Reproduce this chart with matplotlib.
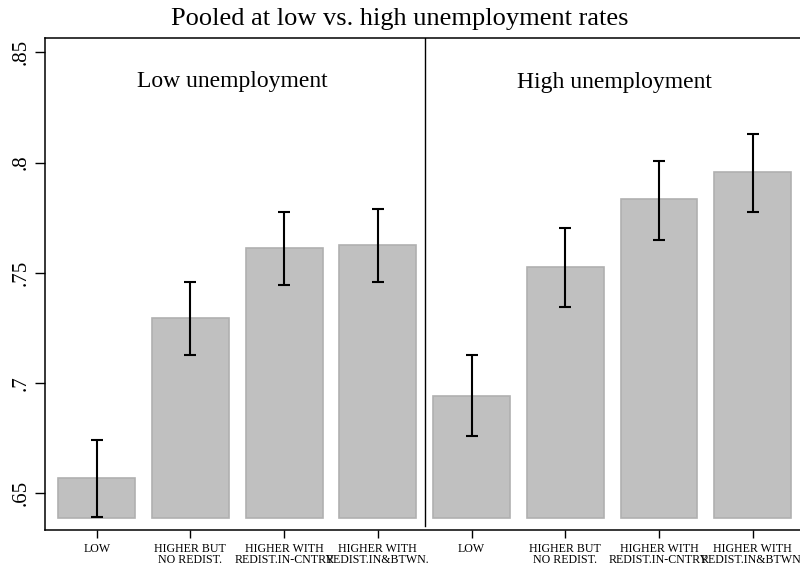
import matplotlib
matplotlib.use("Agg")
import matplotlib.pyplot as plt
import numpy as np

plt.rcParams['font.family'] = ['Liberation Serif', 'DejaVu Serif']

title = "Pooled at low vs. high unemployment rates"
panels = ["Low unemployment", "High unemployment"]
categories = ["LOW", "HIGHER BUT\nNO REDIST.", "HIGHER WITH\nREDIST.IN-CNTRY", "HIGHER WITH\nREDIST.IN&BTWN."]

low_means = [0.6568, 0.7295, 0.7612, 0.7625]
low_lo = [0.6390, 0.7125, 0.7445, 0.7458]
low_hi = [0.6740, 0.7459, 0.7776, 0.7790]

high_means = [0.6943, 0.7527, 0.7834, 0.7957]
high_lo = [0.6760, 0.7346, 0.7650, 0.7776]
high_hi = [0.7128, 0.7704, 0.8009, 0.8130]

yticks = [0.65, 0.7, 0.75, 0.8, 0.85]
ytick_labels = [".65", ".7", ".75", ".8", ".85"]

BASE = 0.6387

fig = plt.figure(figsize=(8, 5.67), dpi=100)
ax = fig.add_axes([45/800, 1-530/567, 759.4/800, (530-38.3)/567])

means = low_means + high_means
lo = low_lo + high_lo
hi = low_hi + high_hi
x = np.arange(len(means))
ax.bar(x, np.array(means) - BASE, bottom=BASE, width=0.82, color="#c0c0c0",
       edgecolor="#b0b0b0", linewidth=1.2, zorder=2)
yerr = [np.array(means) - np.array(lo), np.array(hi) - np.array(means)]
ax.errorbar(x, means, yerr=yerr, fmt="none", ecolor="black", elinewidth=1.5,
            capsize=4, capthick=1.5, zorder=3)

ax.set_xlim(-0.552, 7.552)
ax.set_ylim(0.6333, 0.8564)
ax.axvline(3.5, ymin=0.008, ymax=1, color="black", linewidth=1)

ax.set_yticks(yticks)
ax.set_yticklabels(ytick_labels, rotation=90, va="center", fontsize=15)
ax.set_xticks(x)
ax.set_xticklabels(categories * 2, fontsize=8.6, linespacing=0.95)
ax.tick_params(axis="y", length=7, width=1, pad=3)
ax.tick_params(axis="x", length=6, width=1, pad=3)

ax.spines["right"].set_visible(False)
for s in ["left", "top", "bottom"]:
    ax.spines[s].set_linewidth(1.1)

ax.text(1.45, 0.8370, panels[0], ha="center", va="center", fontsize=17)
ax.text(5.53, 0.8362, panels[1], ha="center", va="center", fontsize=17)

fig.text(0.5, 1-19/567, title, ha="center", va="center", fontsize=19)

fig.savefig("out.png", dpi=100)
